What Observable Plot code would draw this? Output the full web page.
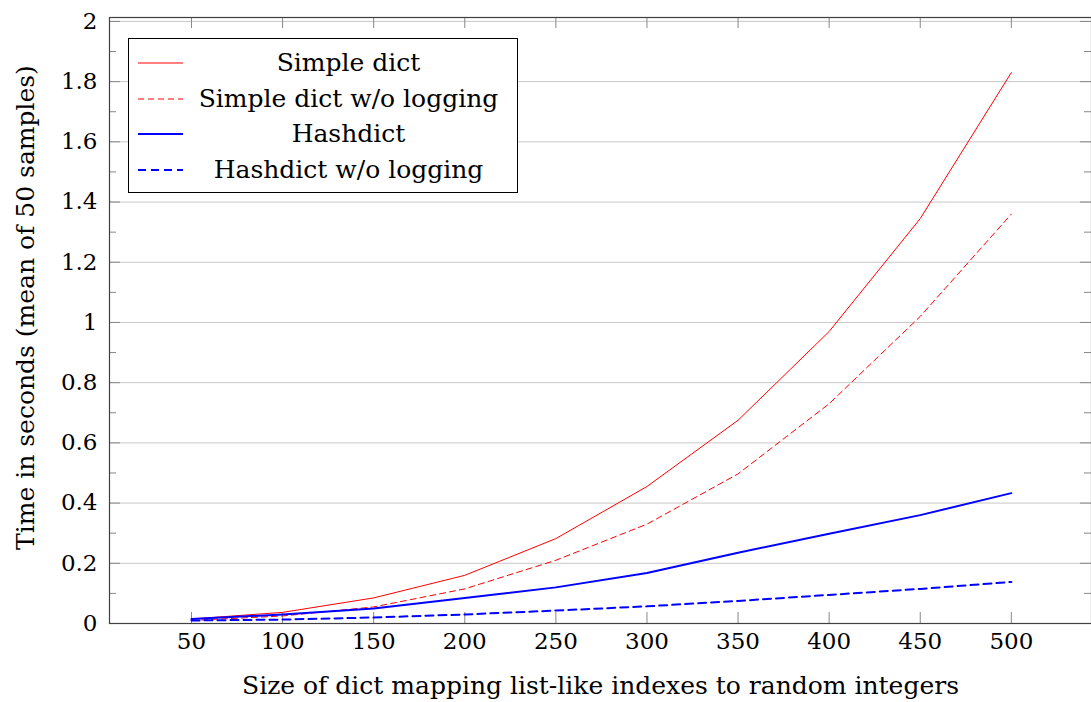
<!DOCTYPE html>
<html>
<head>
<meta charset="utf-8">
<script src="https://cdn.jsdelivr.net/npm/d3@7"></script>
<script src="https://cdn.jsdelivr.net/npm/@observablehq/plot@0.6"></script>
<style>
  html, body { margin: 0; padding: 0; background: #fff; overflow: hidden; }
  #wrap { position: relative; width: 1091px; height: 702px; font-family: "DejaVu Serif", serif; }
  #legend { position: absolute; left: 128px; top: 38px; width: 388px; height: 153px; border: 1px solid #000; background: #fff; box-sizing: content-box; }
  .row { position: absolute; left: 0; width: 388px; height: 36px; }
  .row svg { position: absolute; left: 8px; top: 0; }
  .row span { position: absolute; left: 55px; right: 4px; text-align: center; font-size: 25px; line-height: 36px; color: #000; white-space: nowrap; }
</style>
</head>
<body>
<div id="wrap"><div id="legend"></div></div>
<script>
const sizes = [50, 100, 150, 200, 250, 300, 350, 400, 450, 500];
const simpleDict = [0.015, 0.037, 0.085, 0.16, 0.282, 0.455, 0.675, 0.97, 1.345, 1.83];
const simpleDictNoLog = [0.01, 0.025, 0.055, 0.115, 0.21, 0.33, 0.497, 0.73, 1.02, 1.36];
const hashdict = [0.015, 0.03, 0.05, 0.085, 0.12, 0.168, 0.235, 0.298, 0.36, 0.433];
const hashdictNoLog = [0.01, 0.013, 0.02, 0.03, 0.043, 0.057, 0.075, 0.095, 0.115, 0.138];
const seriesNames = ["Simple dict", "Simple dict w/o logging", "Hashdict", "Hashdict w/o logging"];
const xTicks = [50, 100, 150, 200, 250, 300, 350, 400, 450, 500];
const yTicks = [0, 0.2, 0.4, 0.6, 0.8, 1, 1.2, 1.4, 1.6, 1.8, 2];
const yMinorTicks = [0.1, 0.3, 0.5, 0.7, 0.9, 1.1, 1.3, 1.5, 1.7, 1.9];
const xLabel = "Size of dict mapping list-like indexes to random integers";
const yLabel = "Time in seconds (mean of 50 samples)";

const seriesValues = [simpleDict, simpleDictNoLog, hashdict, hashdictNoLog];
const styles = [
  {stroke: "#ff0000", strokeWidth: 1, dash: null},
  {stroke: "#ff0000", strokeWidth: 1, dash: "6,4"},
  {stroke: "#0000ff", strokeWidth: 2, dash: null},
  {stroke: "#0000ff", strokeWidth: 2, dash: "8,5"}
];

const W = 1091, H = 702, mT = 17, mB = 79, mL = 109, mR = 0;
const plotH = H - mT - mB, plotW = W - mL - mR;
const font = '"DejaVu Serif", serif';
const fsTick = 23, fsLabel = 25;

const lineMarks = seriesValues.map((vals, i) => {
  const data = sizes.map((s, j) => ({x: s, y: vals[j]}));
  return Plot.line(data, {x: "x", y: "y", stroke: styles[i].stroke, strokeWidth: styles[i].strokeWidth, strokeDasharray: styles[i].dash});
});

const tickColor = "#888";
const chart = Plot.plot({
  width: W, height: H,
  marginTop: mT, marginBottom: mB, marginLeft: mL, marginRight: mR,
  style: {fontFamily: font, fontSize: fsTick + "px", color: "#000", background: "#fff"},
  x: {domain: [5, 544]},
  y: {domain: [0, 2.013]},
  marks: [
    Plot.gridY(yTicks, {stroke: "#c8c8c8", strokeOpacity: 1, strokeWidth: 1}),
    Plot.tickX(xTicks, {x: d => d, insetTop: plotH - 11, stroke: tickColor}),
    Plot.tickX(xTicks, {x: d => d, insetBottom: plotH - 11, stroke: tickColor}),
    Plot.tickY(yTicks, {y: d => d, insetRight: plotW - 11, stroke: tickColor}),
    Plot.tickY(yTicks, {y: d => d, insetLeft: plotW - 11, stroke: tickColor}),
    Plot.tickY(yMinorTicks, {y: d => d, insetRight: plotW - 7, stroke: tickColor}),
    Plot.tickY(yMinorTicks, {y: d => d, insetLeft: plotW - 7, stroke: tickColor}),
    Plot.axisX(xTicks, {tickSize: 0, tickPadding: 9, label: null, fontSize: fsTick}),
    Plot.axisY(yTicks, {tickSize: 0, tickPadding: 12, label: null, fontSize: fsTick, tickFormat: d => String(+d.toFixed(1))}),
    ...lineMarks,
    Plot.frame({stroke: "#404040", strokeWidth: 1.2}),
    Plot.text([xLabel], {text: d => d, frameAnchor: "bottom", textAnchor: "middle", dy: 62, lineAnchor: "middle", fontSize: fsLabel, fill: "#000"}),
    Plot.text([yLabel], {text: d => d, frameAnchor: "left", textAnchor: "middle", dx: -84, dy: -13, rotate: -90, lineAnchor: "middle", fontSize: fsLabel, fill: "#000"})
  ]
});
const wrap = document.getElementById("wrap");
wrap.insertBefore(chart, wrap.firstChild);

const legend = document.getElementById("legend");
seriesNames.forEach((name, i) => {
  const row = document.createElement("div");
  row.className = "row";
  row.style.top = (6 + i * 35.5) + "px";
  const ns = "http://www.w3.org/2000/svg";
  const svg = document.createElementNS(ns, "svg");
  svg.setAttribute("width", 48); svg.setAttribute("height", 36);
  const ln = document.createElementNS(ns, "line");
  ln.setAttribute("x1", 1); ln.setAttribute("x2", 46);
  ln.setAttribute("y1", 18); ln.setAttribute("y2", 18);
  ln.setAttribute("stroke", styles[i].stroke);
  ln.setAttribute("stroke-width", styles[i].strokeWidth);
  if (styles[i].dash) ln.setAttribute("stroke-dasharray", styles[i].dash);
  svg.appendChild(ln);
  row.appendChild(svg);
  const sp = document.createElement("span");
  sp.textContent = name;
  row.appendChild(sp);
  legend.appendChild(row);
});
</script>
</body>
</html>
